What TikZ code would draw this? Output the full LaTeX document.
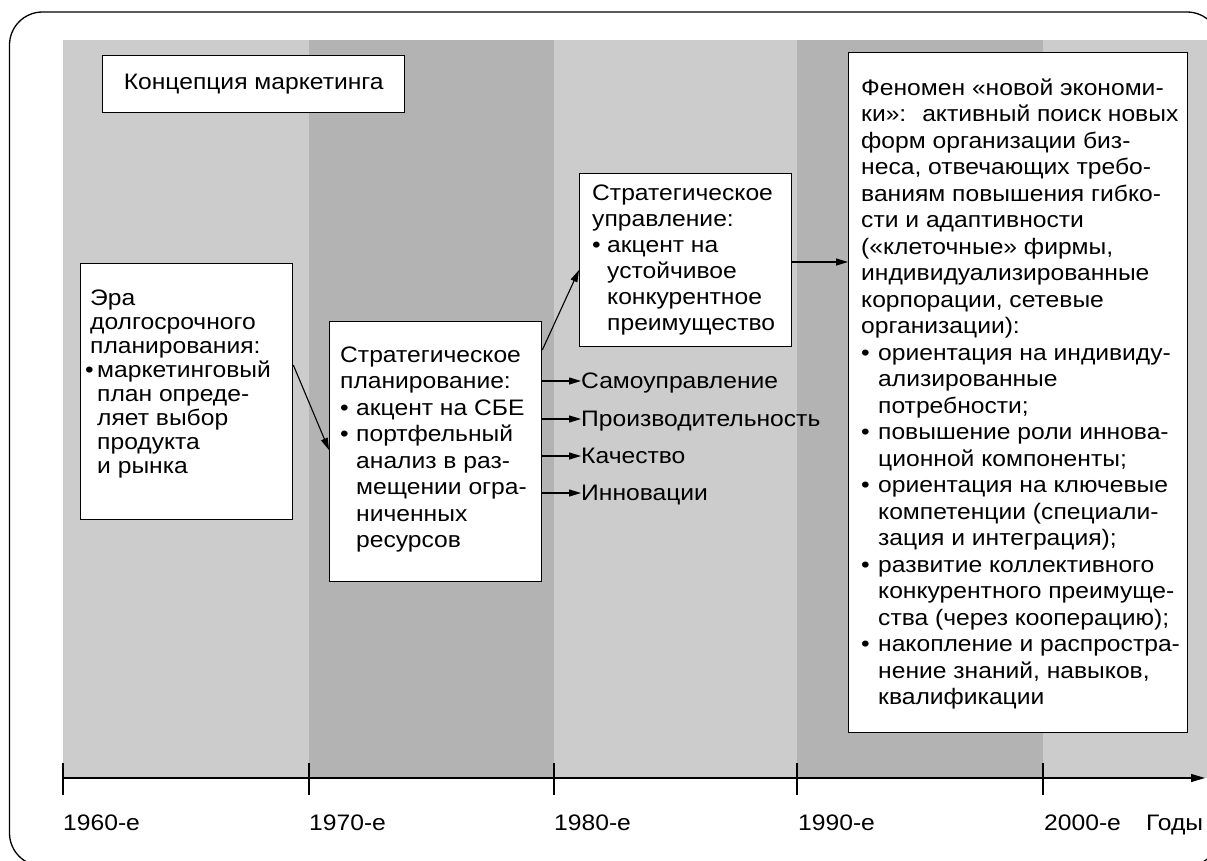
\documentclass[tikz,border=0pt]{standalone}
\usepackage{fontspec}
\setmainfont[FakeStretch=1.1]{Liberation Sans}
\usetikzlibrary{arrows.meta,calc}
\newcommand\bulx[1][16pt]{\makebox[#1][l]{•}}
\newcommand\indx[1][16pt]{\hspace*{#1}}
\newcommand\fstrut{\rule{0pt}{17pt}}
\definecolor{bandlight}{HTML}{CCCCCC}
\definecolor{banddark}{HTML}{B3B3B3}
\begin{document}
\begin{tikzpicture}[x=1pt,y=-1pt,
  box/.style={draw=black, line width=1.3pt, fill=white, rectangle, inner sep=0pt, anchor=north west},
  txt/.style={anchor=north west, inner sep=0pt, align=left, font=\fontsize{22.4}{26.5}\selectfont},
  eratxt/.style={txt, font=\fontsize{22.4}{24}\selectfont},
  mgmttxt/.style={txt, font=\fontsize{22.4}{26}\selectfont},
  lbl/.style={anchor=base west, inner sep=0pt, text height=17pt, text depth=3pt, font=\fontsize{22.4}{23.3}\selectfont},
  yearlbl/.style={anchor=base west, inner sep=0pt, font=\fontsize{22.4}{23.3}\selectfont},
  arr/.style={line width=1.1pt, -{Triangle[length=12pt,width=7pt]}},
  axisline/.style={line width=1.3pt}]
\useasboundingbox (0,0) rectangle (1207,860);
% outer frame
\draw[line width=1.3pt, rounded corners=33pt] (9.5,12) rectangle (1220,866);
% bands
\fill[bandlight] (63,40) rectangle (309,778);
\fill[banddark] (309,40) rectangle (554,778);
\fill[bandlight] (554,40) rectangle (797,778);
\fill[bandlight] (1043,40) rectangle (1207,778);
\fill[banddark] (797,40) rectangle (1043,778);
% axis
\coordinate (axs) at (63,778);
\coordinate (axe) at (1205,778);
\draw[axisline, -{Triangle[length=14pt,width=8pt]}] (axs) -- (axe);
\foreach \x in {63,309,554,797,1043} \draw[axisline] (\x,763) -- (\x,795);
\node[yearlbl] (y60) at (63,830) {1960-е};
\node[yearlbl] (y70) at (309,830) {1970-е};
\node[yearlbl] (y80) at (554,830) {1980-е};
\node[yearlbl] (y90) at (798,830) {1990-е};
\node[yearlbl] (y00) at (1044,830) {2000-е};
\node[yearlbl] (yrs) at (1146,830) {Годы};
% boxes
\node[box, minimum width=302pt, minimum height=57pt, font=\fontsize{22.4}{23.3}\selectfont] (concept) at (102,55) {Концепция маркетинга};
\node[box, minimum width=212pt, minimum height=256pt] (era) at (80,263) {};
\node[eratxt] (era-t) at (90,288) {\fstrut Эра\\
долгосрочного\\
планирования:\\
\hspace*{-5pt}\bulx[12pt]маркетинговый\\
\indx[7pt]план опреде-\\
\indx[7pt]ляет выбор\\
\indx[7pt]продукта\\
\indx[7pt]и рынка};
\node[box, minimum width=212pt, minimum height=260pt] (plan) at (329,321) {};
\node[txt] (plan-t) at (340,345) {\fstrut Стратегическое\\
планирование:\\
\bulx акцент на СБЕ\\
\bulx портфельный\\
\indx анализ в раз-\\
\indx мещении огра-\\
\indx ниченных\\
\indx ресурсов};
\node[box, minimum width=212pt, minimum height=173pt] (mgmt) at (579,173) {};
\node[mgmttxt] (mgmt-t) at (592,183) {\fstrut Стратегическое\\
управление:\\
\bulx[15pt]акцент на\\
\indx[15pt]устойчивое\\
\indx[15pt]конкурентное\\
\indx[15pt]преимущество};
\node[box, minimum width=339pt, minimum height=680pt] (big) at (848,52) {};
\node[txt] (big-t) at (861,78) {\fstrut Феномен «новой экономи-\\
ки»:~ активный поиск новых\\
форм организации биз-\\
неса, отвечающих требо-\\
ваниям повышения гибко-\\
сти и адаптивности\\
(«клеточные» фирмы,\\
индивидуализированные\\
корпорации, сетевые\\
организации):\\
\bulx[17pt]ориентация на индивиду-\\
\indx[17pt]ализированные\\
\indx[17pt]потребности;\\
\bulx[17pt]повышение роли иннова-\\
\indx[17pt]ционной компоненты;\\
\bulx[17pt]ориентация на ключевые\\
\indx[17pt]компетенции (специали-\\
\indx[17pt]зация и интеграция);\\
\bulx[17pt]развитие коллективного\\
\indx[17pt]конкурентного преимуще-\\
\indx[17pt]ства (через кооперацию);\\
\bulx[17pt]накопление и распростра-\\
\indx[17pt]нение знаний, навыков,\\
\indx[17pt]квалификации};
% labels
\node[lbl] (l1) at (581,388) {Самоуправление};
\node[lbl] (l2) at (581,426) {Производительность};
\node[lbl] (l3) at (581,463) {Качество};
\node[lbl] (l4) at (581,500) {Инновации};
% connectors
\draw[arr] ($(era.north east)+(0,102)$) -- ($(plan.north west)+(0,129)$);
\draw[arr] ($(plan.north east)+(0,29)$) -- ($(mgmt.north west)+(0,97)$);
\draw[arr] ($(mgmt.north east)+(0,89)$) -- ($(big.north west)+(0,210)$);
\draw[arr] (plan.east |- l1.west) -- (l1.west);
\draw[arr] (plan.east |- l2.west) -- (l2.west);
\draw[arr] (plan.east |- l3.west) -- (l3.west);
\draw[arr] (plan.east |- l4.west) -- (l4.west);
\end{tikzpicture}
\end{document}
